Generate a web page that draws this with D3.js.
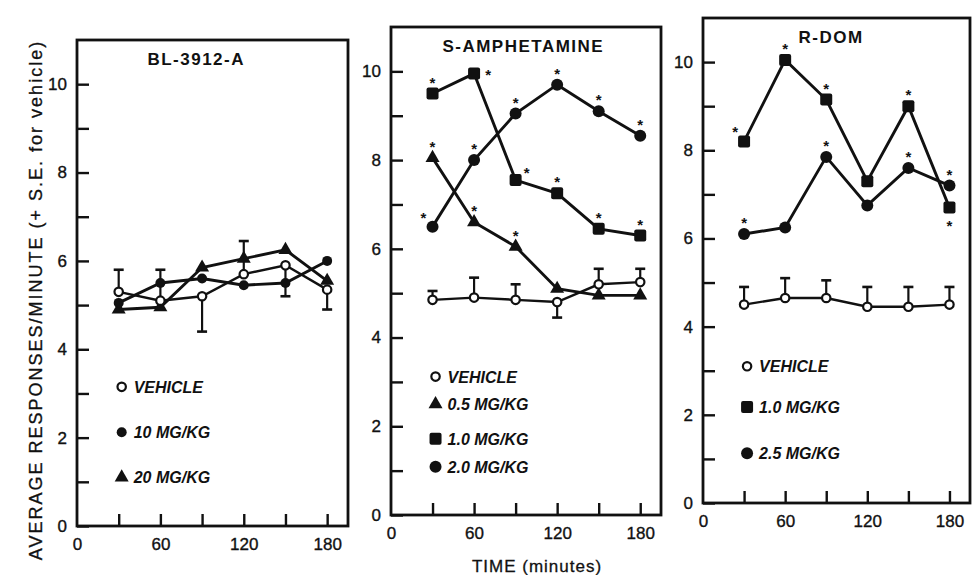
<!DOCTYPE html>
<html lang="en">
<head>
<meta charset="UTF-8">
<title>Average responses per minute over time</title>
<style>
  body { margin: 0; background: #ffffff; }
  svg { display: block; }
  text { font-family: "Liberation Sans", Arial, Helvetica, sans-serif; fill: #111; }
  .axis .tick text { font-size: 17px; stroke: #111; stroke-width: 0.35px; }
  .axis line { stroke: #111; stroke-width: 2.4; }
  .frame { fill: none; stroke: #111; stroke-width: 2.8; }
  .title { font-size: 17px; font-weight: bold; letter-spacing: 1.5px; }
  .legend text { font-size: 16px; font-weight: bold; font-style: italic; }
  .star { font-size: 15px; font-weight: bold; }
  .axis-label { font-size: 18px; letter-spacing: 2px; stroke: #111; stroke-width: 0.3px; }
</style>
</head>
<body>
<svg id="chart" width="973" height="575"></svg>
<script src="https://d3js.org/d3.v7.min.js"></script>
<script>
// time points (minutes) and axis ticks
const times = [30, 60, 90, 120, 150, 180];
const xTicks = [0, 30, 60, 90, 120, 150, 180];
const xLabels = [0, 60, 120, 180];
const yTicks = [0, 1, 2, 3, 4, 5, 6, 7, 8, 9, 10];
const yLabels = [0, 2, 4, 6, 8, 10];

const panelTitles = ["BL-3912-A", "S-AMPHETAMINE", "R-DOM"];

// BL-3912-A  (SE: positive = bar drawn up, negative = drawn down)
const blVehicle   = [5.3, 5.1, 5.2, 5.7, 5.9, 5.35];
const blVehicleSE = [0.5, 0.7, -0.8, 0.75, -0.7, -0.45];
const bl10        = [5.05, 5.5, 5.6, 5.45, 5.5, 6.0];
const bl20        = [4.9, 4.95, 5.85, 6.05, 6.25, 5.55];
const blLegend    = ["VEHICLE", "10 MG/KG", "20 MG/KG"];

// S-AMPHETAMINE
const ampVehicle   = [4.85, 4.9, 4.85, 4.8, 5.2, 5.25];
const ampVehicleSE = [0.2, 0.45, 0.35, -0.35, 0.35, 0.3];
const amp05        = [8.05, 6.6, 6.05, 5.1, 4.95, 4.95];
const amp10        = [9.5, 9.95, 7.55, 7.25, 6.45, 6.3];
const amp20        = [6.5, 8.0, 9.05, 9.7, 9.1, 8.55];
const amp05Stars   = ["t", "t", "t", "", "", ""];
const amp10Stars   = ["t", "r", "tr", "t", "t", "t"];
const amp20Stars   = ["tl", "t", "t", "t", "t", "t"];
const ampLegend    = ["VEHICLE", "0.5 MG/KG", "1.0 MG/KG", "2.0 MG/KG"];

// R-DOM
const domVehicle   = [4.5, 4.65, 4.65, 4.45, 4.45, 4.5];
const domVehicleSE = [0.4, 0.45, 0.4, 0.45, 0.45, 0.4];
const dom10        = [8.2, 10.05, 9.15, 7.3, 9.0, 6.7];
const dom25        = [6.1, 6.25, 7.85, 6.75, 7.6, 7.2];
const dom10Stars   = ["tl", "t", "t", "", "t", "b"];
const dom25Stars   = ["t", "", "t", "", "t", "t"];
const domLegend    = ["VEHICLE", "1.0 MG/KG", "2.5 MG/KG"];

// layout of the three boxes
const boxes = [
    { left: 77,  right: 348, top: 40, bottom: 526, titleAt: 0.44, legendY: [3.15, 2.12, 1.1], dot: 5 },
    { left: 391, right: 661, top: 27, bottom: 515, titleAt: 0.49, legendY: [3.12, 2.5, 1.72, 1.09], dot: 6 },
    { left: 703, right: 970, top: 18, bottom: 503, titleAt: 0.48, legendY: [3.1, 2.18, 1.13], dot: 6 }
];

const panels = [
    { title: panelTitles[0],
      series: [
        { values: bl20, shape: "tri" },
        { values: bl10, shape: "dot" },
        { values: blVehicle, se: blVehicleSE, shape: "open" }
      ],
      legend: [["open", blLegend[0]], ["dot", blLegend[1]], ["tri", blLegend[2]]] },
    { title: panelTitles[1],
      series: [
        { values: amp05, shape: "tri", stars: amp05Stars },
        { values: amp10, shape: "sq", stars: amp10Stars },
        { values: amp20, shape: "dot", stars: amp20Stars },
        { values: ampVehicle, se: ampVehicleSE, shape: "open" }
      ],
      legend: [["open", ampLegend[0]], ["tri", ampLegend[1]], ["sq", ampLegend[2]], ["dot", ampLegend[3]]] },
    { title: panelTitles[2],
      series: [
        { values: dom10, shape: "sq", stars: dom10Stars },
        { values: dom25, shape: "dot", stars: dom25Stars },
        { values: domVehicle, se: domVehicleSE, shape: "open" }
      ],
      legend: [["open", domLegend[0]], ["sq", domLegend[1]], ["dot", domLegend[2]]] }
];

const svg = d3.select("#chart");

// star offsets by placement code
const starOffset = { t: [0, -14], r: [14, -2], tr: [11, -10], tl: [-9, -12], b: [0, 15] };

function drawMarker(g, shape, cx, cy, dotR) {
    if (shape === "open") {
        g.append("circle").attr("cx", cx).attr("cy", cy).attr("r", 4.2)
            .attr("fill", "#fff").attr("stroke", "#111").attr("stroke-width", 2.2);
    } else if (shape === "dot") {
        g.append("circle").attr("cx", cx).attr("cy", cy).attr("r", dotR).attr("fill", "#111");
    } else if (shape === "tri") {
        g.append("path").attr("transform", `translate(${cx},${cy})`)
            .attr("d", d3.symbol(d3.symbolTriangle, 85)()).attr("fill", "#111");
    } else if (shape === "sq") {
        g.append("rect").attr("x", cx - 6).attr("y", cy - 6).attr("width", 12).attr("height", 12)
            .attr("rx", 2).attr("fill", "#111");
    }
}

panels.forEach((p, i) => {
    const b = boxes[i];
    const x = d3.scaleLinear().domain([0, 195]).range([b.left, b.right]);
    const y = d3.scaleLinear().domain([0, 11]).range([b.bottom, b.top]);
    const g = svg.append("g");

    // y axis, ticks pointing inward
    g.append("g")
        .attr("class", "axis")
        .attr("transform", `translate(${b.left},0)`)
        .call(d3.axisLeft(y).tickValues(yTicks).tickSizeInner(-12).tickSizeOuter(0).tickPadding(10)
            .tickFormat(d => yLabels.includes(d) ? d : ""))
        .call(a => a.select(".domain").remove());

    // x axis
    g.append("g")
        .attr("class", "axis")
        .attr("transform", `translate(0,${b.bottom})`)
        .call(d3.axisBottom(x).tickValues(xTicks).tickSizeInner(-12).tickSizeOuter(0).tickPadding(12)
            .tickFormat(d => xLabels.includes(d) ? d : ""))
        .call(a => a.select(".domain").remove())
        .call(a => a.selectAll(".tick").filter(d => d === 0).select("line").remove());

    g.append("rect").attr("class", "frame")
        .attr("x", b.left).attr("y", b.top)
        .attr("width", b.right - b.left).attr("height", b.bottom - b.top);

    g.append("text").attr("class", "title")
        .attr("x", b.left + (b.right - b.left) * b.titleAt)
        .attr("y", b.top + 25)
        .attr("text-anchor", "middle")
        .text(p.title);

    const line = d3.line().x((d, j) => x(times[j])).y(d => y(d));

    p.series.forEach(s => {
        g.append("path")
            .datum(s.values)
            .attr("fill", "none")
            .attr("stroke", "#111")
            .attr("stroke-width", s.shape === "open" ? 2.4 : 2.9)
            .attr("d", line);
    });

    // error bars for vehicle
    p.series.filter(s => s.se).forEach(s => {
        s.values.forEach((v, j) => {
            const xp = x(times[j]);
            const y1 = y(v + s.se[j]);
            g.append("line").attr("x1", xp).attr("x2", xp).attr("y1", y(v)).attr("y2", y1)
                .attr("stroke", "#111").attr("stroke-width", 2.2);
            g.append("line").attr("x1", xp - 5).attr("x2", xp + 5).attr("y1", y1).attr("y2", y1)
                .attr("stroke", "#111").attr("stroke-width", 2.6);
        });
    });

    p.series.forEach(s => {
        s.values.forEach((v, j) => drawMarker(g, s.shape, x(times[j]), y(v), b.dot));
        if (s.stars) {
            s.stars.forEach((code, j) => {
                if (!code) return;
                const off = starOffset[code];
                g.append("text").attr("class", "star")
                    .attr("x", x(times[j]) + off[0])
                    .attr("y", y(s.values[j]) + off[1] + 8)
                    .attr("text-anchor", "middle")
                    .text("*");
            });
        }
    });

    // legend
    const lg = g.append("g").attr("class", "legend");
    p.legend.forEach((item, k) => {
        const lx = x(30) + 3;
        const ly = y(b.legendY[k]);
        drawMarker(lg, item[0], lx, ly, b.dot);
        lg.append("text").attr("x", lx + 12).attr("y", ly + 6).text(item[1]);
    });
});

// shared axis labels
svg.append("text")
    .attr("class", "axis-label")
    .attr("transform", "translate(42,300) rotate(-90)")
    .attr("text-anchor", "middle")
    .text("AVERAGE RESPONSES/MINUTE (+ S.E. for vehicle)");

svg.append("text")
    .attr("class", "axis-label")
    .attr("x", 537)
    .attr("y", 572)
    .attr("text-anchor", "middle")
    .style("font-size", "17px")
    .style("letter-spacing", "1px")
    .text("TIME (minutes)");
</script>
</body>
</html>
